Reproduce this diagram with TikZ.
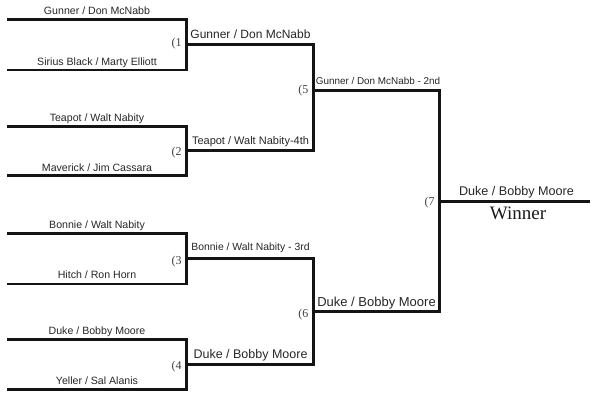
\documentclass[tikz,border=0pt]{standalone}
\usepackage{fontspec}
\setmainfont{Liberation Sans}
\newfontfamily\numserif{Liberation Serif}
\begin{document}
\begin{tikzpicture}[x=1pt,y=-1pt,
  bracket/.style={line width=2.9pt, line join=miter, draw=black!92},
  lab/.style={anchor=base, inner sep=0pt, text=black!85},
  rA/.style={lab, font=\fontsize{10.6}{12}\selectfont},
  mnum/.style={anchor=base east, inner sep=0pt, text=black!75, font=\numserif\fontsize{12}{14}\selectfont}
]
\useasboundingbox (0,0) rectangle (598,402);
% entry points
\coordinate (p1) at (7,19.7);
\coordinate (p2) at (7,70);
\coordinate (p3) at (7,126.3);
\coordinate (p4) at (7,175.7);
\coordinate (p5) at (7,233.7);
\coordinate (p6) at (7,284);
\coordinate (p7) at (7,339.7);
\coordinate (p8) at (7,389.7);
% match points
\coordinate (m1) at (186.5,44.2);
\coordinate (m2) at (186.5,150.5);
\coordinate (m3) at (186.5,258.8);
\coordinate (m4) at (186.5,364.8);
\coordinate (m5) at (313.3,90.6);
\coordinate (m6) at (313.3,311.5);
\coordinate (m7) at (439.7,201.2);
\coordinate (w) at (590,201.2);
% brackets
\draw[bracket] (p1) -| (m1) |- (p2);
\draw[bracket] (p3) -| (m2) |- (p4);
\draw[bracket] (p5) -| (m3) |- (p6);
\draw[bracket] (p7) -| (m4) |- (p8);
\draw[bracket] (m1) -| (m5) |- (m2);
\draw[bracket] (m3) -| (m6) |- (m4);
\draw[bracket] (m5) -| (m7) |- (m6);
\draw[bracket] (m7) -- (w);
% round 1 labels
\node[rA] (t1) at (97,14.5) {Gunner / Don McNabb};
\node[rA] (t2) at (97,65) {Sirius Black / Marty Elliott};
\node[rA] (t3) at (97,121) {Teapot / Walt Nabity};
\node[rA] (t4) at (97,171) {Maverick / Jim Cassara};
\node[rA] (t5) at (97,228.5) {Bonnie / Walt Nabity};
\node[rA] (t6) at (97,278.5) {Hitch / Ron Horn};
\node[rA] (t7) at (97,334.5) {Duke / Bobby Moore};
\node[rA] (t8) at (97,384.5) {Yeller / Sal Alanis};
% round 2 labels
\node[lab, font=\fontsize{12}{14}\selectfont] (u1) at (250.5,38.3) {Gunner / Don McNabb};
\node[lab, font=\fontsize{11}{13}\selectfont] (u2) at (250.5,144.3) {Teapot / Walt Nabity-4th};
\node[lab, font=\fontsize{10.4}{12}\selectfont] (u3) at (250.5,250.7) {Bonnie / Walt Nabity - 3rd};
\node[lab, font=\fontsize{12.5}{14}\selectfont] (u4) at (250.5,358.3) {Duke / Bobby Moore};
% round 3 labels
\node[lab, font=\fontsize{9.9}{12}\selectfont] (v1) at (378,84) {Gunner / Don McNabb - 2nd};
\node[lab, font=\fontsize{13}{15}\selectfont] (v2) at (376.5,306) {Duke / Bobby Moore};
% final
\node[lab, font=\fontsize{12.6}{15}\selectfont] (fin) at (516.5,195) {Duke / Bobby Moore};
\node[lab, font=\numserif\fontsize{19}{22}\selectfont, text=black!90] (win) at (518,219.3) {Winner};
% match numbers
\node[mnum] (n1) at (181.8,46.5) {(1};
\node[mnum] (n2) at (181.8,155) {(2};
\node[mnum] (n3) at (181.8,264.5) {(3};
\node[mnum] (n4) at (181.8,369.5) {(4};
\node[mnum] (n5) at (308.5,93.3) {(5};
\node[mnum] (n6) at (308.5,317) {(6};
\node[mnum] (n7) at (434.8,205) {(7};
\end{tikzpicture}
\end{document}
